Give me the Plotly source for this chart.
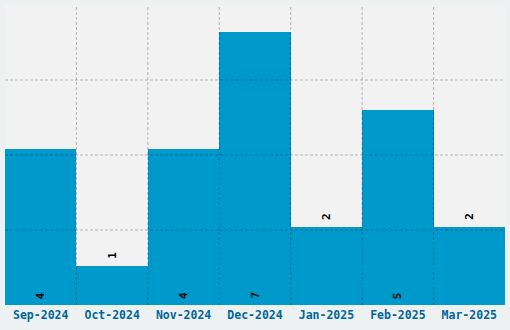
import plotly.graph_objects as go

months = ["Sep-2024", "Oct-2024", "Nov-2024", "Dec-2024", "Jan-2025", "Feb-2025", "Mar-2025"]
counts = [4, 1, 4, 7, 2, 5, 2]

ymax = 7.69
n_grid = 4
grid_color = "rgba(0,0,0,0.25)"
grid_dash = "3px,2px"

fig = go.Figure(go.Bar(
    x=list(range(len(months))), y=counts,
    marker=dict(color="#0099cc", line=dict(width=0)),
    hoverinfo="skip",
))

# value labels (rotated), inside at base for tall bars, above for short ones
for i, v in enumerate(counts):
    inside = v >= 3
    fig.add_annotation(
        x=i, y=0 if inside else v, xref="x", yref="y",
        text=str(v), showarrow=False, textangle=-90,
        yanchor="bottom", xanchor="center",
        yshift=5 if inside else 6, borderpad=0,
        font=dict(family="DejaVu Sans Mono", size=11, color="#000000", weight="bold"),
    )

# dashed grid drawn above the bars
for i in range(len(months) - 1):
    fig.add_shape(type="line", xref="x", yref="y domain", x0=i + 0.5, x1=i + 0.5, y0=0, y1=1,
                  line=dict(color=grid_color, width=1, dash=grid_dash), layer="above")
for k in range(1, n_grid):
    yv = k * ymax / n_grid
    fig.add_shape(type="line", xref="x domain", yref="y", x0=0, x1=1, y0=yv, y1=yv,
                  line=dict(color=grid_color, width=1, dash=grid_dash), layer="above")

fig.update_layout(
    width=510, height=330,
    margin=dict(l=5, r=5, t=5, b=25),
    paper_bgcolor="#eef1f1",
    plot_bgcolor="#f2f2f2",
    bargap=0,
    showlegend=False,
    font=dict(family="DejaVu Sans Mono"),
)
fig.update_xaxes(
    range=[-0.5, len(months) - 0.5],
    tickmode="array", tickvals=list(range(len(months))), ticktext=months,
    showgrid=False, ticks="", zeroline=False, showline=False, ticklabelstandoff=1,
    tickfont=dict(family="DejaVu Sans Mono", size=11.5, color="#006699", weight="bold"),
)
fig.update_yaxes(
    range=[0, ymax], showticklabels=False, showgrid=False, zeroline=False, showline=False,
)
fig.write_html("out.html")
